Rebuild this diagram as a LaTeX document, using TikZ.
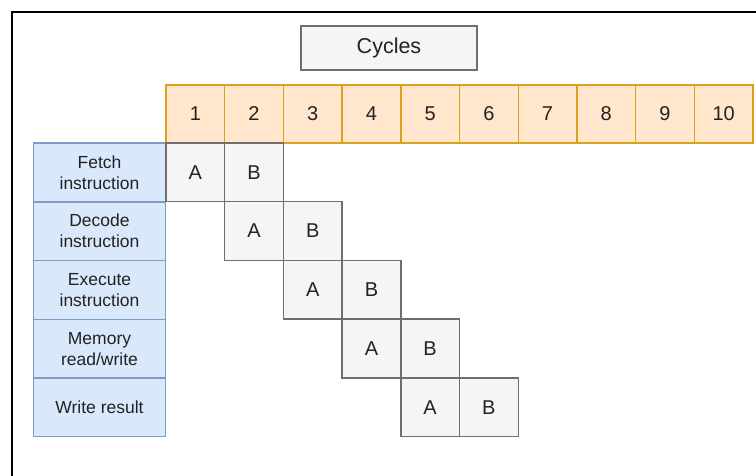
\documentclass[tikz,border=0pt]{standalone}
\usepackage{fontspec}
\setmainfont{Liberation Sans}
\definecolor{hdrfill}{HTML}{FFE6CC}
\definecolor{hdrline}{HTML}{D9A21E}
\definecolor{lblfill}{HTML}{DAE8FC}
\definecolor{lblline}{HTML}{7E9CC8}
\definecolor{cellfill}{HTML}{F5F5F5}
\definecolor{cellline}{HTML}{6E6E6E}
\definecolor{txt}{HTML}{222222}
\begin{document}
\begin{tikzpicture}[x=1pt,y=-1pt,
  hdr/.style={draw=hdrline,fill=hdrfill,line width=1.4pt,minimum width=58.7pt,minimum height=58pt,inner sep=0pt,font=\fontsize{20}{24}\selectfont,text=txt},
  lbl/.style={draw=lblline,fill=lblfill,line width=1.4pt,minimum width=132.5pt,minimum height=58.7pt,inner sep=0pt,align=center,font=\fontsize{17.5}{21}\selectfont,text=txt},
  cell/.style={draw=cellline,fill=cellfill,line width=1.4pt,minimum width=58.7pt,minimum height=58.7pt,inner sep=0pt,font=\fontsize{20}{24}\selectfont,text=txt},
  title/.style={draw=cellline,fill=cellfill,line width=1.4pt,minimum width=176pt,minimum height=44pt,inner sep=0pt,font=\fontsize{21.5}{26}\selectfont,text=txt}]
\useasboundingbox (0,0) rectangle (756,475);
\draw[line width=1.8pt,black] (12,476) -- (12,12) -- (757,12);
\node[title] (cycles) at (389,48) {Cycles};
\foreach \i in {1,...,10}{
  \node[hdr] (h\i) at ({166+58.7*(\i-0.5)},114) {\i};
}
\node[lbl] (r1) at (99.5,172.5) {Fetch\\instruction};
\node[lbl] (r2) at (99.5,231.2) {Decode\\instruction};
\node[lbl] (r3) at (99.5,289.9) {Execute\\instruction};
\node[lbl] (r4) at (99.5,348.6) {Memory\\read/write};
\node[lbl] (r5) at (99.5,407.3) {Write result};
\foreach \r in {1,...,5}{
  \node[cell] (a\r) at ({166+58.7*(\r-0.5)},{143+58.7*(\r-0.5)}) {A};
  \node[cell] (b\r) at ({166+58.7*(\r+0.5)},{143+58.7*(\r-0.5)}) {B};
}
\end{tikzpicture}
\end{document}
